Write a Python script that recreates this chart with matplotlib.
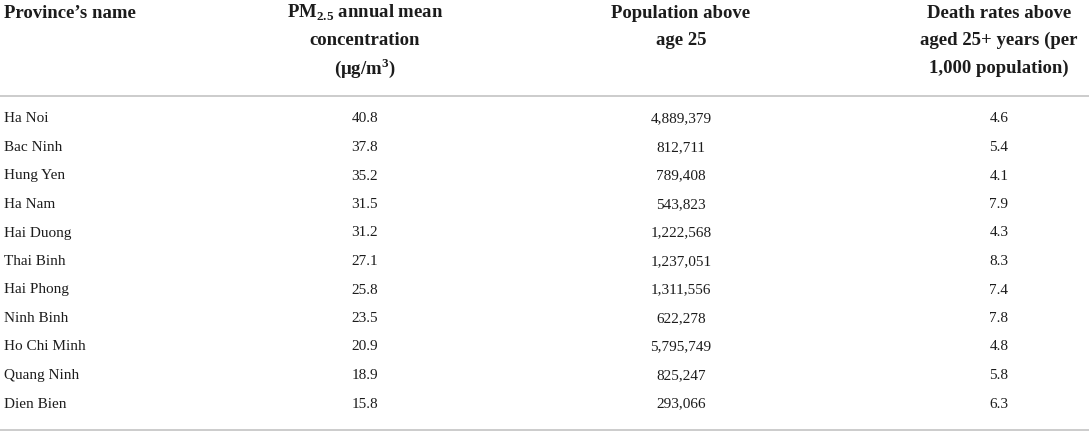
import matplotlib.pyplot as plt

# DATOS DE LA TABLA
provincias = ["Ha Noi", "Bac Ninh", "Hung Yen", "Ha Nam", "Hai Duong", "Thai Binh",
              "Hai Phong", "Ninh Binh", "Ho Chi Minh", "Quang Ninh", "Dien Bien"]
pm25 = [40.8, 37.8, 35.2, 31.5, 31.2, 27.1, 25.8, 23.5, 20.9, 18.9, 15.8]
poblacion = [4889379, 812711, 789408, 543823, 1222568, 1237051,
             1311556, 622278, 5795749, 825247, 293066]
mortalidad = [4.6, 5.4, 4.1, 7.9, 4.3, 8.3, 7.4, 7.8, 4.8, 5.8, 6.3]

# encabezados, una lista de lineas por columna
enc_provincia = ["Province\u2019s name"]
enc_pm = ["PM$_{\\mathbf{2.5}}$ annual mean", "concentration", "(\u03bcg/m$^{\\mathbf{3}}$)"]
enc_pob = ["Population above", "age 25"]
enc_muerte = ["Death rates above", "aged 25+ years (per", "1,000 population)"]

plt.rcParams['font.family'] = ['Liberation Serif', 'DejaVu Serif']
plt.rcParams['mathtext.fontset'] = 'custom'
plt.rcParams['mathtext.rm'] = 'Liberation Serif'
plt.rcParams['mathtext.bf'] = 'Liberation Serif:bold'

W, H = 1089, 433
fig = plt.figure(figsize=(W / 100, H / 100), dpi=100)
ax = fig.add_axes([0, 0, 1, 1])
ax.set_xlim(0, W)
ax.set_ylim(H, 0)
ax.axis('off')

COLOR = '#1c1c1c'
x_izq = 4
centros = [365, 681, 999]

# encabezados
y_enc = [13, 40.5, 68]
ax.text(x_izq, y_enc[0], enc_provincia[0], ha='left', va='center',
        fontsize=13.5, fontweight='bold', color=COLOR)
for xc, lineas in zip(centros, [enc_pm, enc_pob, enc_muerte]):
    for k, linea in enumerate(lineas):
        ax.text(xc, y_enc[k], linea, ha='center', va='center',
                fontsize=13.5, fontweight='bold', color=COLOR)

# lineas separadoras
ax.plot([0, W], [96, 96], color='#c8c8c8', lw=1.3)
ax.plot([0, W], [430, 430], color='#c8c8c8', lw=1.3)

# filas
y0 = 119
dy = 28.5
for i, nombre in enumerate(provincias):
    y = y0 + i * dy
    ax.text(x_izq, y, nombre, ha='left', va='center', fontsize=11, color=COLOR)
    ax.text(centros[0], y, f"{pm25[i]:.1f}", ha='center', va='center', fontsize=11, color=COLOR)
    ax.text(centros[1], y, f"{poblacion[i]:,}", ha='center', va='center', fontsize=11, color=COLOR)
    ax.text(centros[2], y, f"{mortalidad[i]:.1f}", ha='center', va='center', fontsize=11, color=COLOR)

fig.savefig("out.png", dpi=100)
